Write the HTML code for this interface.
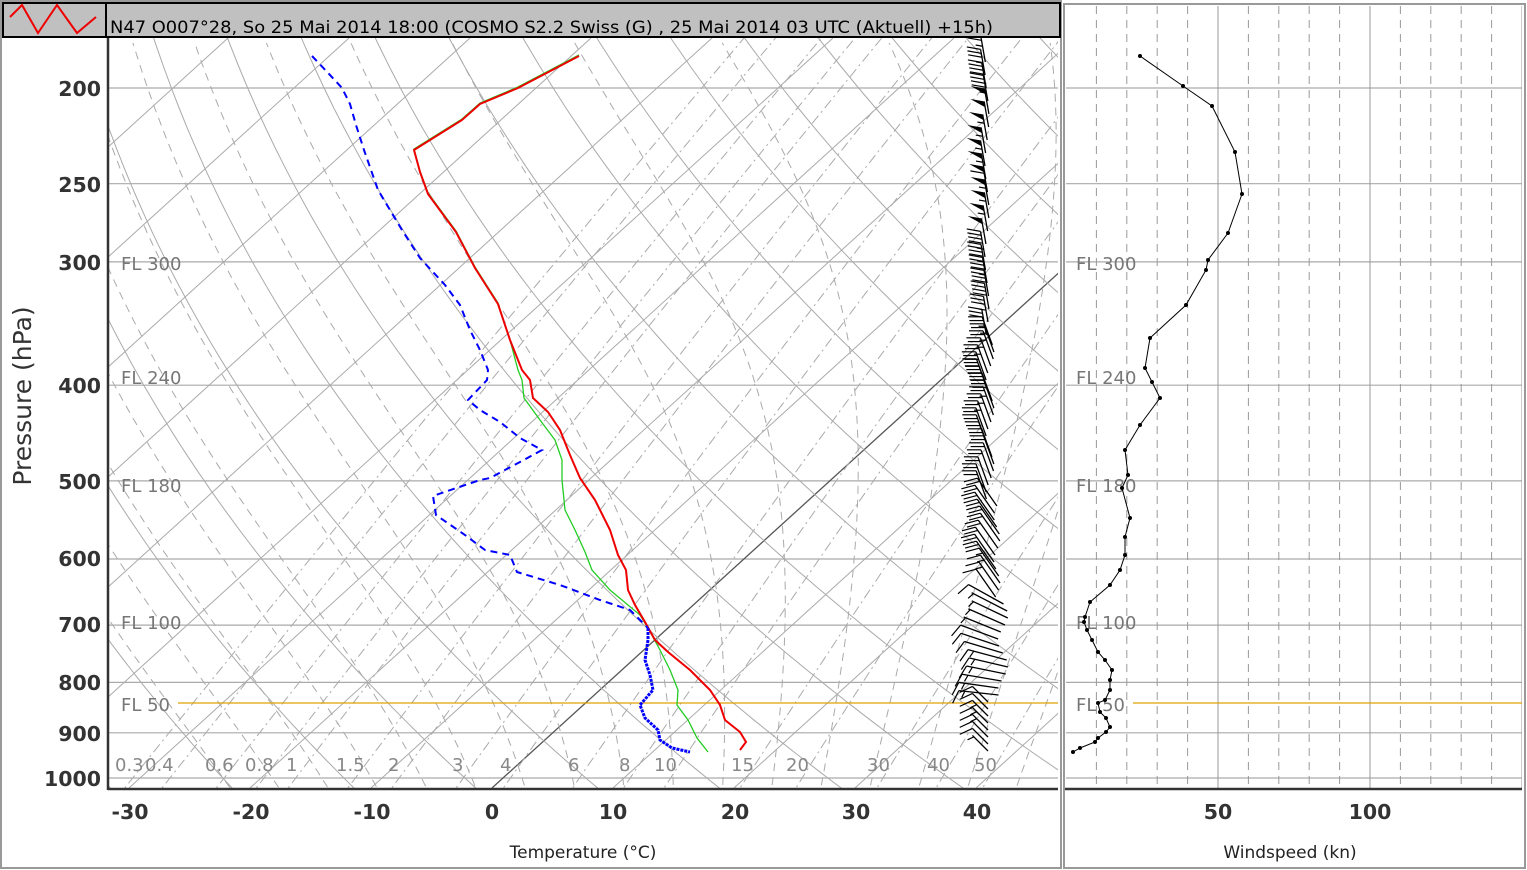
<!DOCTYPE html>
<html><head><meta charset="utf-8">
<style>
body{margin:0;background:#fff;width:1527px;height:870px;overflow:hidden;font-family:"DejaVu Sans","Liberation Sans",sans-serif}
svg{position:absolute;left:0;top:0}
</style></head>
<body>
<svg id="s" width="1527" height="870" xmlns="http://www.w3.org/2000/svg" font-family="DejaVu Sans, Liberation Sans, sans-serif">
<defs>
<clipPath id="cl"><rect x="109" y="38" width="949" height="750"/></clipPath>
<clipPath id="cr"><rect x="1066" y="6" width="456" height="782"/></clipPath>
</defs>
<rect x="1" y="1" width="1060" height="867" fill="#fff" stroke="#999" stroke-width="2"/>
<rect x="1064" y="4" width="461" height="864" fill="#fff" stroke="#999" stroke-width="2"/>
<g id="bg" clip-path="url(#cl)"></g>
<g id="rbg" clip-path="url(#cr)"></g>
<g font-size="18" fill="#777">
<text x="121" y="270">FL 300</text><text x="121" y="384">FL 240</text><text x="121" y="492">FL 180</text><text x="121" y="629">FL 100</text><text x="121" y="711">FL 50</text>
<text x="1076" y="270">FL 300</text><text x="1076" y="384">FL 240</text><text x="1076" y="492">FL 180</text><text x="1076" y="629">FL 100</text><text x="1076" y="711">FL 50</text>
</g>
<line x1="178" y1="703" x2="1058" y2="703" stroke="#e0a000" stroke-width="1.2"/>
<line x1="1133" y1="703" x2="1522" y2="703" stroke="#e0a000" stroke-width="1.2"/>
<g font-size="18" fill="#888">
<text x="115" y="771">0.3</text><text x="145" y="771">0.4</text><text x="205" y="771">0.6</text><text x="245" y="771">0.8</text><text x="286" y="771">1</text><text x="336" y="771">1.5</text><text x="388" y="771">2</text><text x="452" y="771">3</text><text x="500" y="771">4</text><text x="568" y="771">6</text><text x="619" y="771">8</text><text x="654" y="771">10</text><text x="731" y="771">15</text><text x="786" y="771">20</text><text x="867" y="771">30</text><text x="927" y="771">40</text><text x="974" y="771">50</text>
</g>
<g id="data" clip-path="url(#cl)"></g>
<g id="rdata" clip-path="url(#cr)"></g>
<line x1="108" y1="38" x2="108" y2="790" stroke="#333" stroke-width="2.5"/>
<line x1="108" y1="789" x2="1058" y2="789" stroke="#333" stroke-width="2.5"/>
<line x1="1065" y1="789" x2="1522" y2="789" stroke="#333" stroke-width="2.5"/>
<g font-size="20.5" font-weight="bold" fill="#333" text-anchor="end">
<text x="101" y="96">200</text><text x="101" y="192">250</text><text x="101" y="270">300</text><text x="101" y="393">400</text><text x="101" y="489">500</text><text x="101" y="566">600</text><text x="101" y="632">700</text><text x="101" y="690">800</text><text x="101" y="741">900</text><text x="101" y="786">1000</text>
</g>
<g font-size="20.5" font-weight="bold" fill="#333" text-anchor="middle">
<text x="130" y="819">-30</text><text x="251" y="819">-20</text><text x="372" y="819">-10</text><text x="492" y="819">0</text><text x="613" y="819">10</text><text x="735" y="819">20</text><text x="856" y="819">30</text><text x="977" y="819">40</text>
<text x="1218" y="819">50</text><text x="1370" y="819">100</text>
</g>
<text x="583" y="858" font-size="17" fill="#222" text-anchor="middle">Temperature (°C)</text>
<text x="1290" y="858" font-size="17" fill="#222" text-anchor="middle">Windspeed (kn)</text>
<text transform="translate(31,396) rotate(-90)" font-size="25" fill="#333" text-anchor="middle">Pressure (hPa)</text>
<rect x="3" y="3" width="1057" height="34" fill="#c0c0c0" stroke="#000" stroke-width="2"/>
<line x1="106" y1="4" x2="106" y2="37" stroke="#000" stroke-width="2"/>
<polyline points="10,17 22,5 38,33 57,5 77,33 96,17" fill="none" stroke="#e00" stroke-width="2"/>
<text x="110" y="33" font-size="16.5" fill="#000" textLength="883" lengthAdjust="spacingAndGlyphs">N47 O007°28, So 25 Mai 2014 18:00 (COSMO  S2.2  Swiss (G) , 25 Mai 2014 03 UTC (Aktuell) +15h)</text>
</svg>
<script>
var NS="http://www.w3.org/2000/svg";
function el(p,t,a){var e=document.createElementNS(NS,t);for(var k in a)e.setAttribute(k,a[k]);document.getElementById(p).appendChild(e);return e;}
function Y(p){return 778-428.7*Math.log(1000/p);}
function X(T,y){return 492+12.1*T+1.1*(788-y);}
function path(g,pts,st){var d="M"+pts.map(function(q){return q[0].toFixed(1)+","+q[1].toFixed(1)}).join("L");el(g,"path",Object.assign({d:d,fill:"none"},st));}
[200,250,300,400,500,600,700,800,900,1000].forEach(function(p){var y=Y(p);
 el("bg","line",{x1:108,x2:1058,y1:y,y2:y,stroke:"#aaa","stroke-width":1.2});
 el("rbg","line",{x1:1065,x2:1522,y1:y,y2:y,stroke:"#aaa","stroke-width":1.2});});
for(var T=-140;T<=50;T+=10){var y1=788,y2=38;el("bg","line",{x1:X(T,y1),y1:y1,x2:X(T,y2),y2:y2,stroke:T==0?"#555":"#aaa","stroke-width":T==0?1.3:1});}
for(var th=200;th<=500;th+=10){var pts=[];for(var p=1050;p>=150;p-=10){var Tk=th*Math.pow(p/1000,0.286);var y=Y(p);pts.push([X(Tk-273.15,y),y]);}path("bg",pts,{stroke:"#aaa","stroke-width":1});}
function es(T){return 6.112*Math.exp(17.67*T/(T+243.5));}
for(var T0=-20;T0<=44;T0+=4){var T=T0+273.15,pts=[];for(var p=1050;p>=180;p-=5){var Tc=T-273.15;var rs=0.622*es(Tc)/(p-es(Tc));var dT=(287*T+2.5e6*rs)/(1004+2.5e6*2.5e6*rs*0.622/(287*T*T))/p;var y=Y(p);pts.push([X(Tc,y),y]);T-=dT*5;}
 path("bg",pts,{stroke:"#aaa","stroke-width":1,"stroke-dasharray":"8,6"});}
[0.3,0.4,0.6,0.8,1,1.5,2,3,4,6,8,10,15,20,30,40,50].forEach(function(w){var pts=[];for(var p=1050;p>=150;p-=20){var e=w*p/(622+w);var l=Math.log(e/6.112);var Td=243.5*l/(17.67-l);var y=Y(p);pts.push([X(Td,y),y]);}
 path("bg",pts,{stroke:"#aaa","stroke-width":1,"stroke-dasharray":"10,4,2,4"});});
for(var k=10;k<=150;k+=10){var x=1066+3.04*k;el("rbg","line",{x1:x,x2:x,y1:6,y2:788,stroke:"#999","stroke-width":1,"stroke-dasharray":(k%50==0)?"":"8,6"});}
function P(s){return s.trim().split(/\s+/).map(function(a){return a.split(",").map(Number)});}
var green=P("579,55 518,87 480,103 462,119 414,149 420,171 428,193 456,231 475,267 498,303 510,340 518,370 522,380 524,398 540,420 555,440 562,460 562,480 565,510 575,530 585,552 592,570 610,590 640,615 648,628 660,650 670,670 678,690 677,705 688,720 697,738 708,752");
var red=P("579,56 518,88 480,104 462,120 414,150 420,172 428,194 456,232 475,268 498,304 510,340 522,370 530,380 533,398 548,412 560,430 570,455 580,478 595,500 610,530 618,555 626,570 628,590 635,605 645,622 655,640 668,652 690,670 710,690 720,705 725,720 740,732 746,742 740,750");
var blue1=P("312,56 330,75 342,88 350,104 356,125 364,150 378,190 402,230 420,258 445,285 460,305 470,330 480,350 488,370 487,380 468,400 480,410 500,422 520,438 542,450 520,462 490,478 480,480 433,496 436,515 465,535 485,550 510,555 517,572 560,585 600,600 630,610 648,628");
var blue2=P("648,628 648,640 645,660 650,675 653,690 640,705 645,718 658,730 660,740 672,748 690,752");
path("data",green,{stroke:"#2c2","stroke-width":1.3});
path("data",red,{stroke:"#e00","stroke-width":2});
path("data",blue1,{stroke:"#00f","stroke-width":2,"stroke-dasharray":"7,5"});
path("data",blue2,{stroke:"#00f","stroke-width":3,"stroke-dasharray":"3,1"});
var ws=P("1140,56 1183,86 1212,106 1235,152 1242,194 1228,233 1208,260 1206,270 1186,305 1150,338 1145,368 1152,382 1160,398 1140,425 1125,450 1128,475 1122,488 1130,518 1125,537 1125,555 1120,570 1110,585 1090,602 1085,617 1084,622 1087,630 1092,640 1098,652 1105,660 1112,670 1110,680 1110,690 1105,700 1098,703 1100,712 1106,718 1110,727 1106,732 1098,738 1095,742 1080,748 1073,752");
function spd(y){for(var i=0;i<ws.length-1;i++){if(y>=ws[i][1]&&y<=ws[i+1][1]){var f=(y-ws[i][1])/(ws[i+1][1]-ws[i][1]);return ((ws[i][0]+f*(ws[i+1][0]-ws[i][0]))-1066)/3.04;}}return 5;}
// wind barbs
var levels=[];for(var y=62;y<=340;y+=13)levels.push(y);for(var y=345;y<=755;y+=7)levels.push(y);
levels.forEach(function(y){
 var th,L,xb;
 if(y<340){th=-10;L=26;xb=987+2*Math.sin(y/15);}
 else if(y<500){th=-20;L=30;xb=990+4*Math.sin(y/9);}
 else if(y<600){th=-35;L=34;xb=997+3*Math.sin(y/7);}
 else if(y<700){th=-60-(y-600)*0.25;L=40;xb=1003+5*Math.sin(y/8);}
 else {th=-45;L=22;xb=988;}
 var r=th*Math.PI/180,ux=Math.sin(r),uy=-Math.cos(r);
 var tx=xb+L*ux,ty=y+L*uy;
 el("data","line",{x1:xb,y1:y,x2:tx,y2:ty,stroke:"#000","stroke-width":1.3});
 var a=-70*Math.PI/180,bx=ux*Math.cos(a)-uy*Math.sin(a),by=ux*Math.sin(a)+uy*Math.cos(a);
 var s=Math.round(spd(y)/5)*5,pos=0,bl=14;
 while(s>=50){var px=tx-ux*pos,py=ty-uy*pos;el("data","polygon",{points:px+","+py+" "+(px+bx*bl)+","+(py+by*bl)+" "+(px-ux*6)+","+(py-uy*6),fill:"#000"});pos+=7;s-=50;}
 while(s>=10){var px=tx-ux*pos,py=ty-uy*pos;el("data","line",{x1:px,y1:py,x2:px+bx*bl,y2:py+by*bl,stroke:"#000","stroke-width":1.2});pos+=4;s-=10;}
 if(s>=5){var px=tx-ux*(pos+2),py=ty-uy*(pos+2);el("data","line",{x1:px,y1:py,x2:px+bx*bl/2,y2:py+by*bl/2,stroke:"#000","stroke-width":1.2});}
});
path("rdata",ws,{stroke:"#000","stroke-width":1});
ws.forEach(function(q){el("rdata","circle",{cx:q[0],cy:q[1],r:2,fill:"#000"});});
</script>
</body></html>
